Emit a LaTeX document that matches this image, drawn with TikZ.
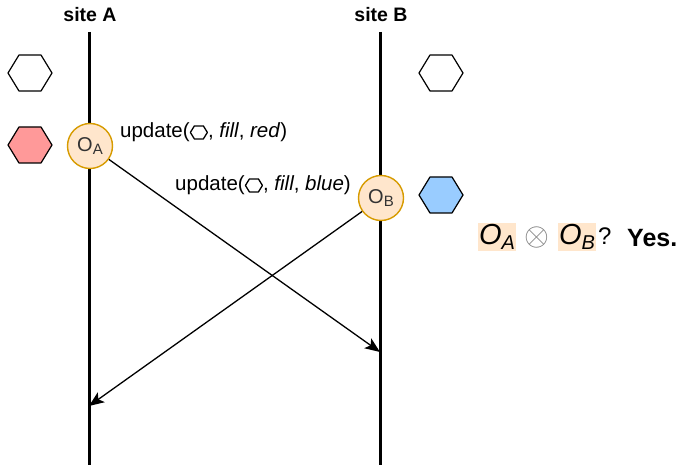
\documentclass[tikz,border=0pt]{standalone}
\usepackage{fontspec}
\setmainfont{Liberation Sans}
\usetikzlibrary{arrows.meta}
\definecolor{peach}{HTML}{FFE6CC}
\definecolor{amber}{HTML}{D79B00}
\definecolor{rosy}{HTML}{FF9999}
\definecolor{skyblue}{HTML}{99CCFF}
\newcommand{\hexglyph}{\tikz[baseline=-0.45ex,x=1pt,y=1pt]\draw[line width=1.3pt,line join=round] (-8.5,0)--(-4.5,6.5)--(4.5,6.5)--(8.5,0)--(4.5,-6.5)--(-4.5,-6.5)--cycle;}
\newcommand{\lowidx}[2]{\raisebox{-0.35ex}{\fontsize{#1}{#1}\selectfont #2}}
\tikzset{
  lifeline/.style={line width=3pt},
  sitelabel/.style={font=\fontsize{19.5}{22}\selectfont\bfseries},
  op/.style={circle, minimum size=45pt, inner sep=0pt, fill=peach, draw=amber, line width=1.4pt,
             text=black!80, font=\fontsize{20}{22}\selectfont},
  msg/.style={line width=1.3pt, -{Stealth[length=15pt,width=12pt,inset=3.5pt]}},
  updlabel/.style={font=\fontsize{20.5}{23}\selectfont, inner sep=0pt},
  hexagon/.pic={\draw[line width=1.2pt, line join=round, fill=#1] (-22,0)--(-11,-18)--(11,-18)--(22,0)--(11,18)--(-11,18)--cycle;},
  hilite/.style={fill=peach, inner sep=1.5pt, font=\fontsize{29}{31}\selectfont\itshape},
}
\begin{document}
\begin{tikzpicture}[x=1pt,y=-1pt]
\useasboundingbox[fill=white] (0,0) rectangle (680,465);

% sites and their time lines
\node[sitelabel] (siteA) at (90,15) {site A};
\node[sitelabel] (siteB) at (381,15) {site B};
\coordinate (Atop) at (89,32);
\coordinate (Abot) at (89,465);
\coordinate (Btop) at (380,32);
\coordinate (Bbot) at (380,465);
\draw[lifeline] (Atop) -- (Abot);
\draw[lifeline] (Btop) -- (Bbot);

% object states at each site
\pic at (30,73) {hexagon=white};
\pic at (30,145) {hexagon=rosy};
\pic at (441,73) {hexagon=white};
\pic at (441,195) {hexagon=skyblue};

% local operations
\node[op] (OA) at (90,146) {O\lowidx{15}{A}};
\node[op] (OB) at (381,198) {O\lowidx{15}{B}};

% propagation of the operations
\coordinate (Brecv) at (380,352);
\coordinate (Arecv) at (89,406);
\draw[msg] (OA) -- (Brecv);
\draw[msg] (OB) -- (Arecv);

\node[updlabel, anchor=west] (updA) at (120,132) {update(\hexglyph, \textit{fill}, \textit{red})};
\node[updlabel, anchor=east] (updB) at (351,185) {update(\hexglyph, \textit{fill}, \textit{blue})};

% commutativity question
\node[hilite] (qA) at (497,237) {O\lowidx{20}{A}};
\node[inner sep=0pt, text=black!50] (otimes) at (537,238) {\scalebox{3.2}{$\otimes$}};
\node[hilite] (qB) at (577,237) {O\lowidx{20}{B}};
\node[anchor=west, inner sep=0pt, font=\fontsize{24}{26}\selectfont] (qmark) at (598,236) {?};
\node[anchor=west, inner sep=0pt, font=\fontsize{25}{27}\selectfont\bfseries] (yes) at (627,238) {Yes.};
\end{tikzpicture}
\end{document}
